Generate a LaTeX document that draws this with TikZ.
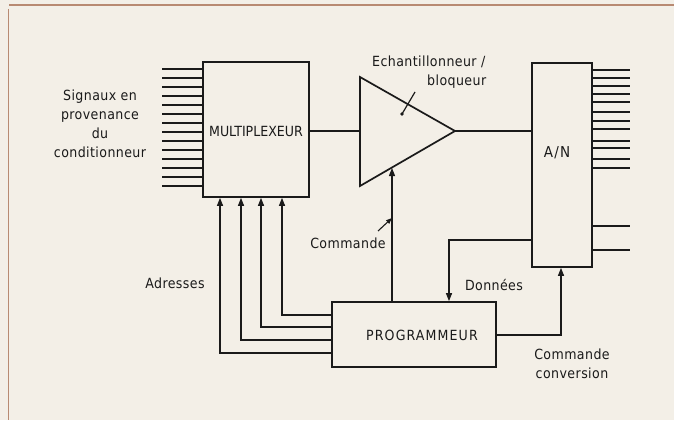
\documentclass[tikz,border=0pt]{standalone}
\usepackage{fontspec}
\setmainfont{DejaVu Sans Condensed}
\newfontfamily\lblfont{DejaVu Sans Condensed}[LetterSpace=3]
\newfontfamily\capfont{DejaVu Sans Condensed}[LetterSpace=8]
\usetikzlibrary{arrows.meta}
\definecolor{paper}{HTML}{F3EFE7}
\definecolor{framec}{HTML}{B88A72}
\definecolor{ink}{HTML}{1A1A1A}
\tikzset{
  blockbox/.style={draw=ink, line width=1.7pt, fill=none, inner sep=0pt},
  lbl/.style={font=\lblfont\fontsize{14}{19}\selectfont, text=ink, align=center, inner sep=0pt},
  boxlbl/.style={font=\fontsize{14}{16}\selectfont, text=ink, inner sep=0pt},
  wire/.style={draw=ink, line width=1.3pt},
  thickwire/.style={draw=ink, line width=2.2pt},
  busline/.style={draw=ink, line width=2pt},
  arr/.style={wire, -{Triangle[length=8pt,width=6pt]}},
}
\begin{document}
\begin{tikzpicture}[x=1pt,y=-1pt]
\useasboundingbox (0,0) rectangle (674,420);
\fill[paper] (0,0) rectangle (674,420);
\draw[framec, line width=1.8pt] (9,5) -- (674,5);
\draw[framec, line width=1.8pt] (8.5,9) -- (8.5,420);

% blocks
\node[blockbox, minimum width=106pt, minimum height=135pt] (mux) at (256,129.5) {};
\node[boxlbl] at (256,131) {MULTIPLEXEUR};
\node[blockbox, minimum width=60pt, minimum height=204pt] (an) at (562,165) {};
\node[blockbox, minimum width=164pt, minimum height=65pt] (prog) at (414,334.5) {};
\node[boxlbl, font=\capfont\fontsize{14}{16}\selectfont] at (422,335) {PROGRAMMEUR};
\node[boxlbl, font=\capfont\fontsize{15}{16}\selectfont] (anl) at (557,153) {A/N};

% sample and hold triangle
\coordinate (tl) at (360,77);
\coordinate (tb) at (360,186);
\coordinate (tap) at (455,131);
\draw[ink, line width=1.7pt, line join=miter] (tl) -- (tap) -- (tb) -- cycle;
\coordinate (tin) at (360,131);
\coordinate (pt1) at (415,92);
\coordinate (pt2) at (402,114);
\draw[ink, line width=1.2pt] (pt1) -- (pt2);
\fill[ink] (pt2) circle (1.8);

% main signal path
\draw[thickwire] (mux.east |- tin) -- (tin);
\draw[thickwire] (tap) -- (tap -| an.west);

% input lines
\foreach \i in {0,...,13} {
  \coordinate (in\i) at (162,{69+9*\i});
  \draw[busline] (in\i) -- (in\i -| mux.west);
}
% output lines
\foreach \yy in {70,78,86,94,102,112,121,129,141,148,159,168} {
  \coordinate (out) at (630,\yy);
  \draw[busline] (out -| an.east) -- (out);
}
\coordinate (o1) at (630,226);
\coordinate (o2) at (630,250);
\draw[wire] (o1 -| an.east) -- (o1);
\draw[busline] (o2 -| an.east) -- (o2);

% address lines
\coordinate (a1) at (282,315);
\coordinate (a2) at (261,327);
\coordinate (a3) at (241,340);
\coordinate (a4) at (220,353);
\foreach \k in {1,2,3,4} {
  \draw[arr] (a\k -| prog.west) -- (a\k) -- (a\k |- mux.south);
}

% commande to S/H
\coordinate (cmd) at (392,168);
\draw[arr] (cmd |- prog.north) -- (cmd);

% donnees
\coordinate (dn) at (449,240);
\draw[arr] (dn -| an.west) -- (dn) -- (dn |- prog.north);

% commande conversion
\coordinate (cc) at (561,335);
\draw[arr] (cc -| prog.east) -- (cc) -- (cc |- an.south);

% labels
\node[lbl] (sig) at (100,124) {Signaux en\\provenance\\du\\conditionneur};
\node[lbl, anchor=west] (ech) at (372,62) {Echantillonneur /};
\node[lbl, anchor=west] (blq) at (427,82) {bloqueur};
\node[lbl] (cmdl) at (348,243) {Commande};
\coordinate (cmdp) at (392,218);
\draw[ink, line width=1.1pt, -{Triangle[length=6pt,width=4.5pt]}] (378,231) -- (cmdp);
\node[lbl] (adr) at (175,283) {Adresses};
\node[lbl] (don) at (494,285) {Données};
\node[lbl] (ccl) at (572,364) {Commande\\conversion};
\end{tikzpicture}
\end{document}
